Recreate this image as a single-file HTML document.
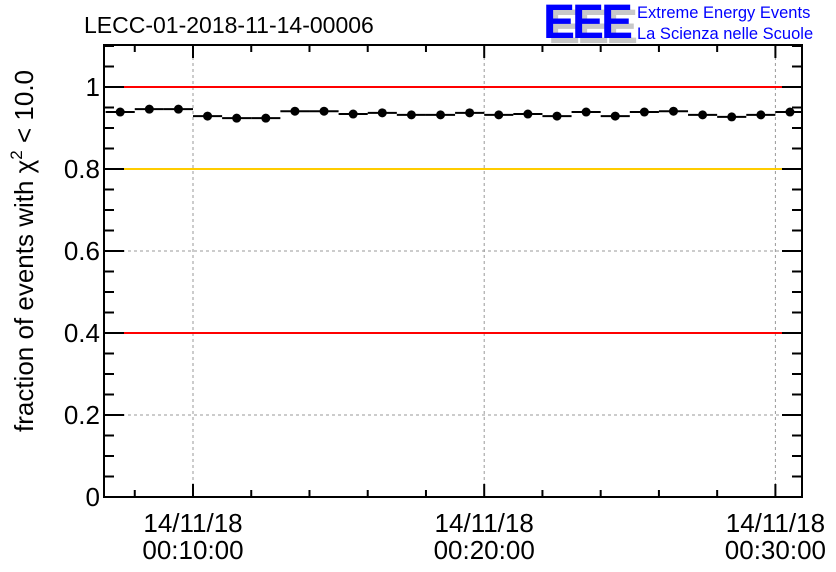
<!DOCTYPE html>
<html><head><meta charset="utf-8"><style>
body{margin:0;background:#fff;}
svg{display:block;font-family:"Liberation Sans",sans-serif;}
</style></head><body>
<svg id="chart" width="836" height="572" viewBox="0 0 836 572">
<text x="84" y="33" font-size="23">LECC-01-2018-11-14-00006</text>
<g>
<text x="548" y="43" font-size="48" font-weight="bold" fill="#c8c8c8" letter-spacing="-3">EEE</text>
<text x="543" y="38" font-size="48" font-weight="bold" fill="#0000ff" letter-spacing="-3">EEE</text>
<text x="637" y="18" font-size="16.5" fill="#0000ff">Extreme Energy Events</text>
<text x="637" y="39" font-size="16.5" fill="#0000ff">La Scienza nelle Scuole</text>
</g>
<g id="grid"></g>
<g id="refs"></g>
<g id="axes"></g>
<g id="marks"></g>
<text transform="translate(33,251) rotate(-90)" text-anchor="middle" font-size="26">fraction of events with χ<tspan font-size="17" dy="-11">2</tspan><tspan dy="11"> &lt; 10.0</tspan></text>
</svg>
<script>
const times=[7.5,8.5,9.5,10.5,11.5,12.5,13.5,14.5,15.5,16.5,17.5,18.5,19.5,20.5,21.5,22.5,23.5,24.5,25.5,26.5,27.5,28.5,29.5,30.5];
const values=[0.939,0.946,0.946,0.929,0.924,0.924,0.941,0.941,0.934,0.937,0.932,0.932,0.937,0.932,0.934,0.929,0.939,0.929,0.939,0.941,0.932,0.927,0.932,0.939];
const yTicks=[0,0.2,0.4,0.6,0.8,1];
const yTickLabels=["0","0.2","0.4","0.6","0.8","1"];
const xTicks=[10,20,30];
const xTickLabels=["00:10:00","00:20:00","00:30:00"];
const refLines=[1,0.8,0.4];
const refColors=["#ff0000","#ffcc00","#ff0000"];
const L=104,R=802,T=45,B=497;
const X=t=>193+(t-10)*29.12;
const Y=v=>B-v*410;
const NS="http://www.w3.org/2000/svg";
function mk(p,tag,a){const e=document.createElementNS(NS,tag);for(const k in a)e.setAttribute(k,a[k]);document.getElementById(p).appendChild(e);return e;}
yTicks.forEach(v=>{if(v>0&&v<1){const e=mk('grid','line',{x1:L,x2:R,y1:Y(v),y2:Y(v),stroke:'#999','stroke-dasharray':'3,3'});

}});
xTicks.forEach(t=>{const e=mk('grid','line',{x1:X(t),x2:X(t),y1:T,y2:B,stroke:'#999','stroke-dasharray':'3,3'});

});
refLines.forEach((v,i)=>{const e=mk('refs','line',{x1:L,x2:R,y1:Y(v),y2:Y(v),stroke:refColors[i],'stroke-width':2});

});
const fr=mk('axes','rect',{x:L,y:T,width:R-L,height:B-T,fill:'none',stroke:'#000','stroke-width':2});


for(let i=0;i<=22;i++){const v=i*0.05;const major=i%4===0;const len=major?20:10;
mk('axes','line',{x1:L,x2:L+len,y1:Y(v),y2:Y(v),stroke:'#000','stroke-width':2});
mk('axes','line',{x1:R-len,x2:R,y1:Y(v),y2:Y(v),stroke:'#000','stroke-width':2});}
yTicks.forEach((v,i)=>{const e=mk('axes','text',{x:L-4,y:Y(v)+9,'text-anchor':'end','font-size':26});e.textContent=yTickLabels[i];

});
for(let t=8;t<=30;t+=2){const major=t%10===0;const len=major?13:7;
mk('axes','line',{x1:X(t),x2:X(t),y1:B,y2:B-len,stroke:'#000','stroke-width':2});
mk('axes','line',{x1:X(t),x2:X(t),y1:T,y2:T+len,stroke:'#000','stroke-width':2});}
xTicks.forEach((t,i)=>{const a=mk('axes','text',{x:X(t),y:532,'text-anchor':'middle','font-size':26});a.textContent='14/11/18';


const b=mk('axes','text',{x:X(t),y:559,'text-anchor':'middle','font-size':26});b.textContent=xTickLabels[i];

});
times.forEach((t,i)=>{const y=Y(values[i]);
const l=mk('marks','line',{x1:Math.max(L,X(t-0.5)),x2:Math.min(R,X(t+0.5)),y1:y,y2:y,stroke:'#000','stroke-width':2});


const c=mk('marks','circle',{cx:X(t),cy:y,r:4.5,fill:'#000'});

});
</script>
</body></html>
